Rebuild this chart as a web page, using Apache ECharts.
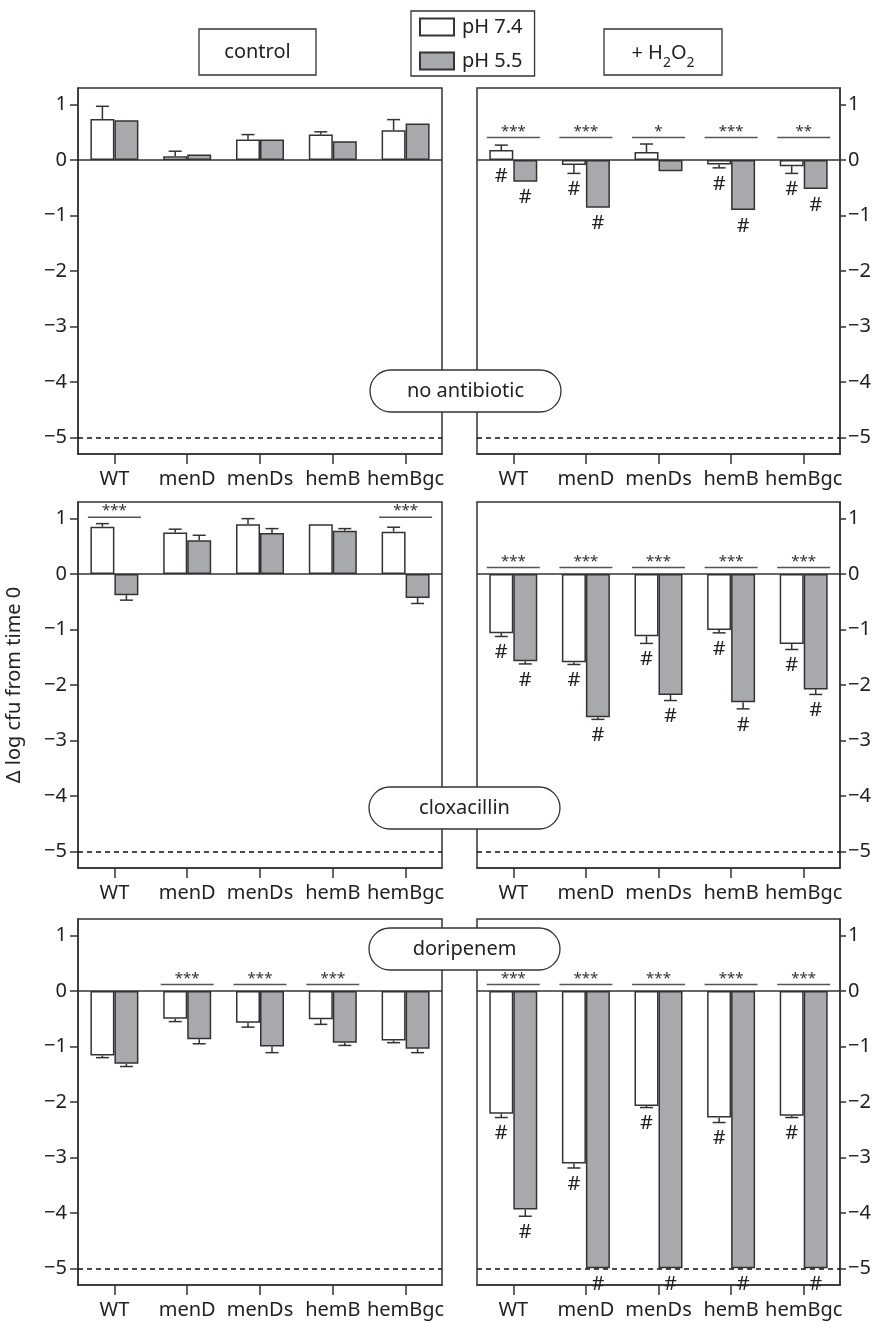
<!DOCTYPE html>
<html><head><meta charset="utf-8">
<script src="https://cdn.jsdelivr.net/npm/echarts@6/dist/echarts.min.js"></script>
<style>html,body{margin:0;padding:0;background:#fff}#c{width:880px;height:1322px}</style>
</head><body><div id="c"></div>
<script>
// ---------- data ----------
const categories = ['WT', 'menD', 'menDs', 'hemB', 'hemBgc'];
const seriesNames = ['pH 7.4', 'pH 5.5'];
const yTicks = [-5, -4, -3, -2, -1, 0, 1];
const detectionLimit = -5;
const panelTitles = ['control', '+ H2O2'];
const rowLabels = ['no antibiotic', 'cloxacillin', 'doripenem'];
const yAxisTitle = 'Δ log cfu from time 0';

// no antibiotic — control
const noAbCtrl74 = [0.74, 0.07, 0.37, 0.46, 0.54];
const noAbCtrl74Err = [0.23, 0.09, 0.09, 0.05, 0.19];
const noAbCtrl55 = [0.72, 0.10, 0.37, 0.34, 0.66];
const noAbCtrl55Err = [0, 0, 0, 0, 0];
const noAbCtrlSig = ['', '', '', '', ''];
const noAbCtrlHash74 = [0, 0, 0, 0, 0];
const noAbCtrlHash55 = [0, 0, 0, 0, 0];
// no antibiotic — + H2O2
const noAbH2o274 = [0.18, -0.09, 0.145, -0.08, -0.11];
const noAbH2o274Err = [0.09, 0.15, 0.145, 0.06, 0.13];
const noAbH2o255 = [-0.39, -0.86, -0.20, -0.90, -0.52];
const noAbH2o255Err = [0, 0, 0, 0, 0];
const noAbH2o2Sig = ['***', '***', '*', '***', '**'];
const noAbH2o2Hash74 = [1, 1, 0, 1, 1];
const noAbH2o2Hash55 = [1, 1, 0, 1, 1];
// cloxacillin — control
const cloxCtrl74 = [0.855, 0.75, 0.90, 0.90, 0.765];
const cloxCtrl74Err = [0.055, 0.06, 0.10, 0, 0.08];
const cloxCtrl55 = [-0.38, 0.61, 0.74, 0.78, -0.43];
const cloxCtrl55Err = [0.09, 0.09, 0.08, 0.04, 0.10];
const cloxCtrlSig = ['***', '', '', '', '***'];
const cloxCtrlHash74 = [0, 0, 0, 0, 0];
const cloxCtrlHash55 = [0, 0, 0, 0, 0];
// cloxacillin — + H2O2
const cloxH2o274 = [-1.065, -1.59, -1.12, -1.01, -1.26];
const cloxH2o274Err = [0.06, 0.04, 0.13, 0.05, 0.10];
const cloxH2o255 = [-1.57, -2.58, -2.18, -2.31, -2.08];
const cloxH2o255Err = [0.05, 0.04, 0.10, 0.12, 0.09];
const cloxH2o2Sig = ['***', '***', '***', '***', '***'];
const cloxH2o2Hash74 = [1, 1, 1, 1, 1];
const cloxH2o2Hash55 = [1, 1, 1, 1, 1];
// doripenem — control
const doriCtrl74 = [-1.16, -0.50, -0.57, -0.51, -0.89];
const doriCtrl74Err = [0.04, 0.05, 0.08, 0.09, 0.04];
const doriCtrl55 = [-1.31, -0.87, -1.00, -0.93, -1.04];
const doriCtrl55Err = [0.05, 0.08, 0.11, 0.05, 0.07];
const doriCtrlSig = ['', '***', '***', '***', ''];
const doriCtrlHash74 = [0, 0, 0, 0, 0];
const doriCtrlHash55 = [0, 0, 0, 0, 0];
// doripenem — + H2O2
const doriH2o274 = [-2.21, -3.11, -2.07, -2.28, -2.25];
const doriH2o274Err = [0.07, 0.08, 0.03, 0.09, 0.03];
const doriH2o255 = [-3.94, -5.0, -5.0, -5.0, -5.0];
const doriH2o255Err = [0.12, 0, 0, 0, 0];
const doriH2o2Sig = ['***', '***', '***', '***', '***'];
const doriH2o2Hash74 = [1, 1, 1, 1, 1];
const doriH2o2Hash55 = [1, 1, 1, 1, 1];

// ---------- layout / style ----------
const FONT = '"Noto Sans", sans-serif';
const INK = '#222';
const LINE = '#333';
const GREY = '#a7a9ac';
const BAR_W = 24, CAP_W = 13, SIG_HALF = 26.5, HASH_OFF = 16;
const gridLeft = [78, 477], gridWidth = [364, 363];
const gridTop = [88, 502, 919], gridHeight = 366;

const panels = [
  {row: 0, col: 0, a: noAbCtrl74, ae: noAbCtrl74Err, b: noAbCtrl55, be: noAbCtrl55Err, sig: noAbCtrlSig, ha: noAbCtrlHash74, hb: noAbCtrlHash55},
  {row: 0, col: 1, a: noAbH2o274, ae: noAbH2o274Err, b: noAbH2o255, be: noAbH2o255Err, sig: noAbH2o2Sig, ha: noAbH2o2Hash74, hb: noAbH2o2Hash55},
  {row: 1, col: 0, a: cloxCtrl74, ae: cloxCtrl74Err, b: cloxCtrl55, be: cloxCtrl55Err, sig: cloxCtrlSig, ha: cloxCtrlHash74, hb: cloxCtrlHash55},
  {row: 1, col: 1, a: cloxH2o274, ae: cloxH2o274Err, b: cloxH2o255, be: cloxH2o255Err, sig: cloxH2o2Sig, ha: cloxH2o2Hash74, hb: cloxH2o2Hash55},
  {row: 2, col: 0, a: doriCtrl74, ae: doriCtrl74Err, b: doriCtrl55, be: doriCtrl55Err, sig: doriCtrlSig, ha: doriCtrlHash74, hb: doriCtrlHash55},
  {row: 2, col: 1, a: doriH2o274, ae: doriH2o274Err, b: doriH2o255, be: doriH2o255Err, sig: doriH2o2Sig, ha: doriH2o2Hash74, hb: doriH2o2Hash55}
];

const grid = [], xAxis = [], yAxis = [], series = [];
const minus = v => String(v).replace('-', '\u2212');

panels.forEach((p, i) => {
  grid.push({left: gridLeft[p.col], width: gridWidth[p.col], top: gridTop[p.row], height: gridHeight,
    show: true, borderColor: LINE, borderWidth: 1.5, backgroundColor: '#fff'});
  xAxis.push({type: 'category', gridIndex: i, data: categories, boundaryGap: true, position: 'bottom',
    axisLine: {show: true, onZero: false, lineStyle: {color: LINE, width: 1.5}},
    axisTick: {show: true, alignWithLabel: true, length: 10, lineStyle: {color: LINE, width: 1.5}},
    axisLabel: {interval: 0, fontSize: 20, fontFamily: FONT, color: INK, margin: 15},
    splitLine: {show: false}});
  const y = {type: 'value', gridIndex: i, min: -5.3, max: 1.3, position: p.col === 0 ? 'left' : 'right',
    axisLine: {show: true, onZero: false, lineStyle: {color: LINE, width: 1.5}},
    axisTick: {show: true, length: p.col === 0 ? 8 : 6, customValues: yTicks, lineStyle: {color: LINE, width: 1.5}},
    axisLabel: {customValues: yTicks, fontSize: 20, fontFamily: FONT, color: INK, margin: p.col === 0 ? 11 : 8, formatter: minus},
    splitLine: {show: false}};
  if (p.row === 1 && p.col === 0) {
    y.name = yAxisTitle; y.nameLocation = 'middle'; y.nameGap = 54;
    y.nameTextStyle = {fontSize: 20, fontFamily: FONT, color: INK};
  }
  yAxis.push(y);

  const ref = {silent: true, symbol: 'none', label: {show: false}, animation: false,
    data: [
      {yAxis: 0, lineStyle: {color: LINE, width: 1.5, type: 'solid'}},
      {yAxis: detectionLimit, lineStyle: {color: '#111', width: 1.5, type: [5, 4]}}
    ]};
  series.push({name: seriesNames[0], type: 'bar', xAxisIndex: i, yAxisIndex: i, data: p.a,
    barWidth: BAR_W, barGap: '0%', itemStyle: {color: '#fff', borderColor: LINE, borderWidth: 1.5}, markLine: ref, z: 2});
  series.push({name: seriesNames[1], type: 'bar', xAxisIndex: i, yAxisIndex: i, data: p.b,
    barWidth: BAR_W, barGap: '0%', itemStyle: {color: GREY, borderColor: LINE, borderWidth: 1.5}, z: 2});

  // error bars
  const errData = [];
  categories.forEach((c, k) => {
    if (p.ae[k]) errData.push([k, p.a[k], p.ae[k], 0]);
    if (p.be[k]) errData.push([k, p.b[k], p.be[k], 1]);
  });
  series.push({name: 'err' + i, type: 'custom', xAxisIndex: i, yAxisIndex: i, data: errData, z: 3,
    encode: {x: 0, y: 1}, silent: true,
    renderItem: (params, api) => {
      const k = api.value(0), v = api.value(1), e = api.value(2), side = api.value(3);
      const base = api.coord([k, v]);
      const end = api.coord([k, v >= 0 ? v + e : v - e]);
      const x = base[0] + (side === 0 ? -BAR_W / 2 : BAR_W / 2);
      const st = {stroke: LINE, lineWidth: 1.5};
      return {type: 'group', children: [
        {type: 'line', shape: {x1: x, y1: base[1], x2: x, y2: end[1]}, style: st},
        {type: 'line', shape: {x1: x - CAP_W / 2, y1: end[1], x2: x + CAP_W / 2, y2: end[1]}, style: st}
      ]};
    }});

  // significance lines (level from the highest significant bar top in the panel)
  let top = 0;
  categories.forEach((c, k) => {
    if (!p.sig[k]) return;
    if (p.a[k] > 0) top = Math.max(top, p.a[k] + p.ae[k]);
    if (p.b[k] > 0) top = Math.max(top, p.b[k] + p.be[k]);
  });
  const sigItems = [], sigText = [];
  categories.forEach((c, k) => { if (p.sig[k]) { sigItems.push([k, top]); sigText.push(p.sig[k]); } });
  series.push({name: 'sig' + i, type: 'custom', xAxisIndex: i, yAxisIndex: i, data: sigItems, z: 4,
    encode: {x: 0, y: 1}, silent: true,
    renderItem: (params, api) => {
      const pt = api.coord([api.value(0), api.value(1)]);
      const yl = pt[1] - 6.5;
      return {type: 'group', children: [
        {type: 'line', shape: {x1: pt[0] - SIG_HALF, y1: yl, x2: pt[0] + SIG_HALF, y2: yl}, style: {stroke: '#555', lineWidth: 1.5}},
        {type: 'text', x: pt[0], y: yl - 6, style: {text: sigText[params.dataIndex], font: '15px ' + FONT, fill: LINE, align: 'center', verticalAlign: 'middle'}}
      ]};
    }});

  // '#' markers below bars
  const hashItems = [];
  categories.forEach((c, k) => {
    if (p.ha[k]) hashItems.push([k, p.a[k] < 0 ? p.a[k] - p.ae[k] : 0, 0]);
    if (p.hb[k]) hashItems.push([k, p.b[k] < 0 ? p.b[k] - p.be[k] : 0, 1]);
  });
  series.push({name: 'hash' + i, type: 'custom', xAxisIndex: i, yAxisIndex: i, data: hashItems, z: 4,
    encode: {x: 0, y: 1}, silent: true, clip: false,
    renderItem: (params, api) => {
      const pt = api.coord([api.value(0), api.value(1)]);
      const x = pt[0] + (api.value(2) === 0 ? -BAR_W / 2 : BAR_W / 2);
      return {type: 'text', x: x, y: pt[1] + HASH_OFF, style: {text: '#', font: '20px ' + FONT, fill: INK, align: 'center', verticalAlign: 'middle'}};
    }});
});

// ---------- decorations ----------
function box(x, y, w, h, r) {
  return {type: 'rect', shape: {x: x, y: y, width: w, height: h, r: r || 0}, style: {fill: '#fff', stroke: LINE, lineWidth: 1.3}, z: 100};
}
function label(x, y, text, extra) {
  return Object.assign({type: 'text', x: x, y: y, style: {text: text, font: '20px ' + FONT, fill: INK, align: 'center', verticalAlign: 'middle'}, z: 101}, extra || {});
}
const graphic = [
  box(199, 29, 117, 46), label(257.5, 52, panelTitles[0]),
  box(604, 29, 118, 46),
  {type: 'text', x: 663, y: 53, z: 101, style: {text: '+ H{s|2}O{s|2}', font: '20px ' + FONT, fill: INK, align: 'center', verticalAlign: 'middle',
    lineHeight: 34, rich: {s: {fontSize: 14, fontFamily: FONT, fill: INK, verticalAlign: 'bottom', lineHeight: 14}}}},
  box(370, 370, 191, 42, 21), label(465.5, 391, rowLabels[0]),
  box(369, 787, 191, 42, 21), label(464.5, 808, rowLabels[1]),
  box(369, 928, 191, 42, 21), label(464.5, 949, rowLabels[2])
];

const chart = echarts.init(document.getElementById('c'), null, {renderer: 'canvas'});
chart.setOption({
  animation: false,
  backgroundColor: '#fff',
  textStyle: {fontFamily: FONT},
  legend: {data: seriesNames, orient: 'vertical', left: 411, top: 11, itemWidth: 34, itemHeight: 17, itemGap: 14,
    borderColor: LINE, borderWidth: 1.3, padding: [6, 12, 5, 8], selectedMode: false, icon: 'rect',
    textStyle: {fontSize: 20, fontFamily: FONT, color: INK, lineHeight: 20, padding: [0, 0, 0, 3]}},
  grid: grid, xAxis: xAxis, yAxis: yAxis, series: series, graphic: graphic
});
</script></body></html>
